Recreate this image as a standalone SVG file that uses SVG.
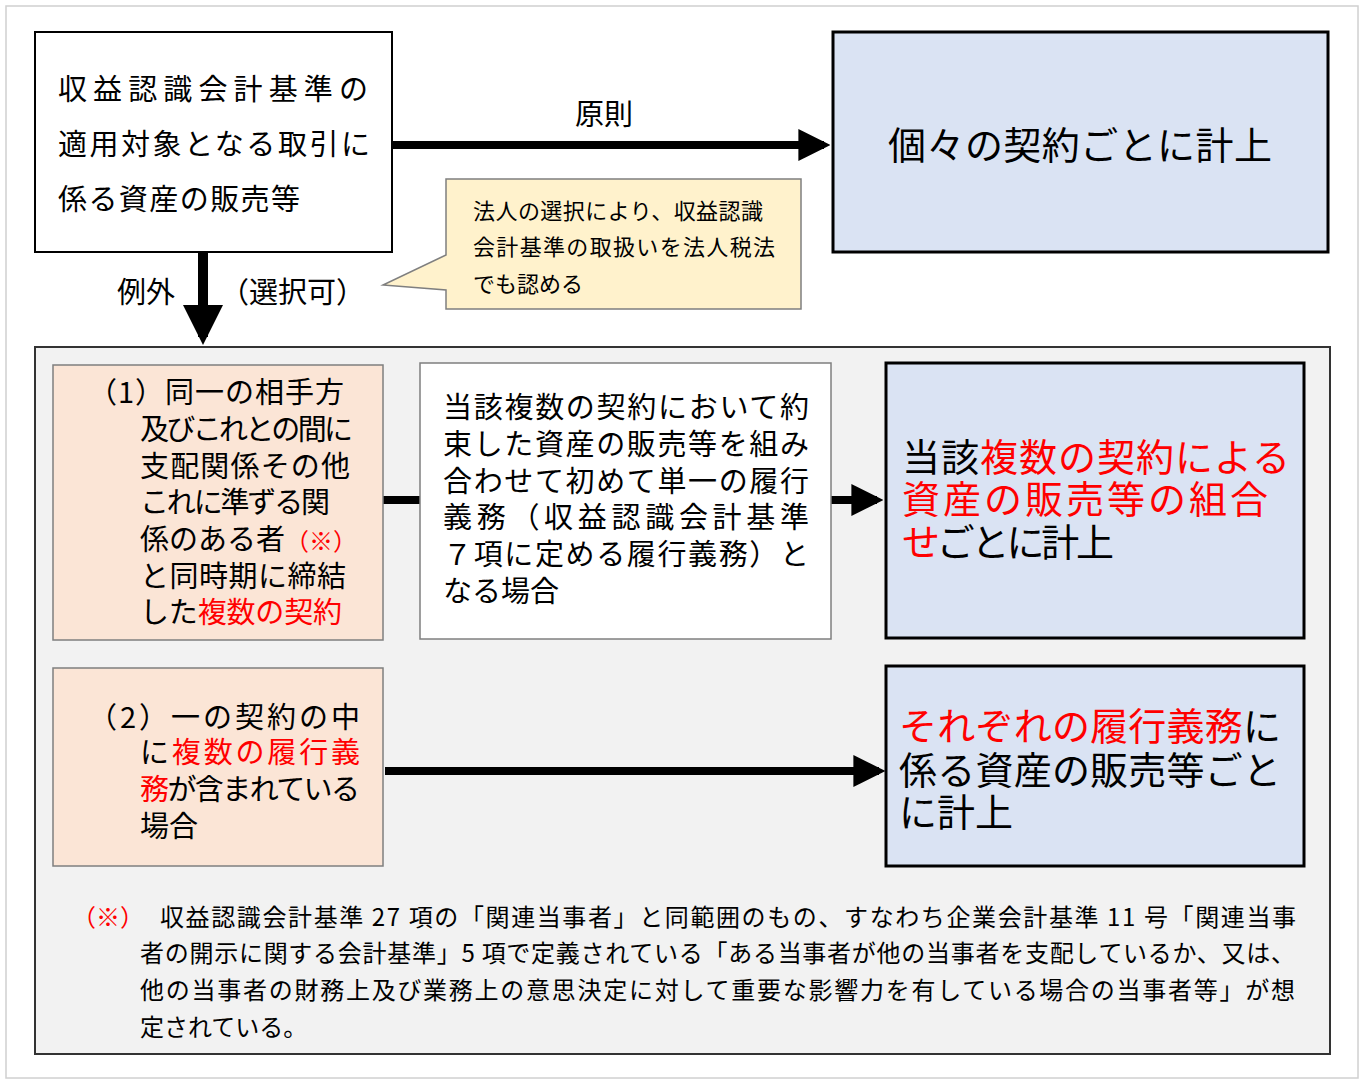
<svg xmlns="http://www.w3.org/2000/svg" width="1365" height="1085" viewBox="0 0 1365 1085">
<style>
text{font-family:"Noto Sans CJK JP","Noto Sans",sans-serif;fill:#000}
.r{fill:#ff0000}
.t30{font-size:29px}
.t42{font-size:38px}
.t22{font-size:22px}
.t24{font-size:24px}
</style>
<defs>
<marker id="ah" markerWidth="4" markerHeight="4" refX="3.2" refY="2" orient="auto" markerUnits="strokeWidth"><path d="M0,0 L4,2 L0,4 z" fill="#000"/></marker>
</defs>
<rect x="0" y="0" width="1365" height="1085" fill="#fff"/>
<rect x="6" y="6" width="1352" height="1072" fill="none" stroke="#d0d0d0" stroke-width="1.5"/>
<g id="panel"><rect x="35" y="347" width="1295" height="707" fill="#f2f2f2" stroke="#333" stroke-width="2"/></g>
<g id="connectors">
<line x1="392" y1="145" x2="824" y2="145" stroke="#000" stroke-width="8" marker-end="url(#ah)"/>
<line x1="203" y1="252" x2="203" y2="337" stroke="#000" stroke-width="10" marker-end="url(#ah)"/>
<line x1="383" y1="500" x2="420" y2="500" stroke="#000" stroke-width="8"/>
<line x1="831" y1="500" x2="877" y2="500" stroke="#000" stroke-width="8" marker-end="url(#ah)"/>
<line x1="385" y1="771" x2="879" y2="771" stroke="#000" stroke-width="8" marker-end="url(#ah)"/>
<text x="604" y="125" text-anchor="middle" class="t30">原則</text>
<text x="146" y="303" text-anchor="middle" class="t30">例外</text>
<text x="220" y="303" class="t30">（選択可）</text>
</g>
<g id="source">
<rect x="35" y="32" width="357" height="220" fill="#fff" stroke="#000" stroke-width="2"/>
<text class="t30" x="58" y="100" textLength="310">収益認識会計基準の</text>
<text class="t30" x="58" y="155" textLength="312">適用対象となる取引に</text>
<text class="t30" x="58" y="210" textLength="242">係る資産の販売等</text>
</g>
<g id="principle">
<rect x="833" y="32" width="495" height="220" fill="#dae3f3" stroke="#000" stroke-width="3"/>
<text class="t42" x="888" y="159" font-size="40" textLength="384">個々の契約ごとに計上</text>
</g>
<g id="callout">
<path d="M446,179 H801 V309 H446 V290 L383,285 L446,255 Z" fill="#fff2cc" stroke="#7f7f7f" stroke-width="1.5"/>
<text class="t22" x="473" y="219" textLength="290">法人の選択により、収益認識</text>
<text class="t22" x="473" y="255" textLength="302">会計基準の取扱いを法人税法</text>
<text class="t22" x="473" y="292">でも認める</text>
</g>
<g id="case1">
<rect x="53" y="365" width="330" height="275" fill="#fbe5d6" stroke="#7f7f7f" stroke-width="1.5"/>
<text class="t30" x="88" y="403" textLength="256">（1）同一の相手方</text>
<text class="t30" x="140" y="440" textLength="213">及びこれとの間に</text>
<text class="t30" x="140" y="477" textLength="210">支配関係その他</text>
<text class="t30" x="140" y="513" textLength="190">これに準ずる関</text>
<text class="t30" x="140" y="550">係のある者<tspan class="r" font-size="24">（※）</tspan></text>
<text class="t30" x="140" y="587" textLength="206">と同時期に締結</text>
<text class="t30" x="140" y="623" textLength="202">した<tspan class="r">複数の契約</tspan></text>
</g>
<g id="condition">
<rect x="420" y="363" width="411" height="276" fill="#fff" stroke="#7f7f7f" stroke-width="1.5"/>
<text class="t30" x="443" y="418" textLength="366">当該複数の契約において約</text>
<text class="t30" x="443" y="455" textLength="366">束した資産の販売等を組み</text>
<text class="t30" x="443" y="492" textLength="366">合わせて初めて単一の履行</text>
<text class="t30" x="443" y="528" textLength="366">義務（収益認識会計基準</text>
<text class="t30" x="443" y="565" textLength="366">７項に定める履行義務）と</text>
<text class="t30" x="443" y="602">なる場合</text>
</g>
<g id="result1">
<rect x="886" y="363" width="418" height="275" fill="#dae3f3" stroke="#000" stroke-width="3"/>
<text class="t42" x="902" y="471" textLength="388">当該<tspan class="r">複数の契約による</tspan></text>
<text class="t42" x="902" y="513" textLength="366"><tspan class="r">資産の販売等の組合</tspan></text>
<text class="t42" x="902" y="556" textLength="212"><tspan class="r">せ</tspan>ごとに計上</text>
</g>
<g id="case2">
<rect x="53" y="668" width="330" height="198" fill="#fbe5d6" stroke="#7f7f7f" stroke-width="1.5"/>
<text class="t30" x="88" y="728" textLength="272">（2）一の契約の中</text>
<text class="t30" x="140" y="763" textLength="220">に<tspan class="r">複数の履行義</tspan></text>
<text class="t30" x="140" y="800" textLength="220"><tspan class="r">務</tspan>が含まれている</text>
<text class="t30" x="140" y="837">場合</text>
</g>
<g id="result2">
<rect x="886" y="666" width="418" height="200" fill="#dae3f3" stroke="#000" stroke-width="3"/>
<text class="t42" x="899" y="740" textLength="382"><tspan class="r">それぞれの履行義務</tspan>に</text>
<text class="t42" x="899" y="784" textLength="382">係る資産の販売等ごと</text>
<text class="t42" x="899" y="826">に計上</text>
</g>
<g id="note">
<text class="t24" x="72" y="926"><tspan class="r">（※）</tspan></text>
<text class="t24" x="160" y="926" textLength="1136">収益認識会計基準 27 項の「関連当事者」と同範囲のもの、すなわち企業会計基準 11 号「関連当事</text>
<text class="t24" x="140" y="962" textLength="1155">者の開示に関する会計基準」5 項で定義されている「ある当事者が他の当事者を支配しているか、又は、</text>
<text class="t24" x="140" y="999" textLength="1155">他の当事者の財務上及び業務上の意思決定に対して重要な影響力を有している場合の当事者等」が想</text>
<text class="t24" x="140" y="1036">定されている。</text>
</g>
</svg>
